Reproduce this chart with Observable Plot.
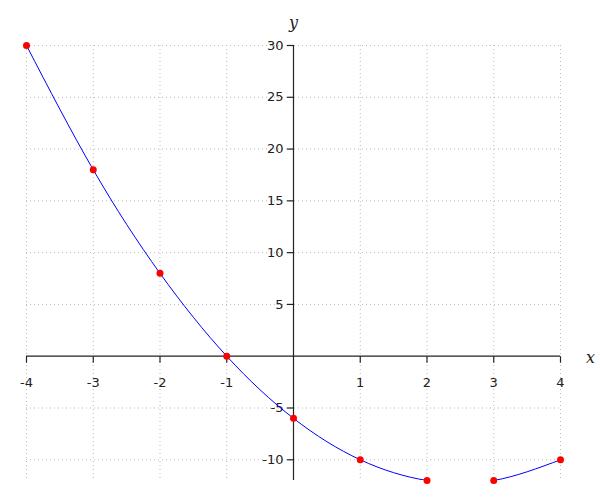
<!DOCTYPE html>
<html>
<head>
<meta charset="utf-8">
<script src="https://cdn.jsdelivr.net/npm/d3@7"></script>
<script src="https://cdn.jsdelivr.net/npm/@observablehq/plot@0.6"></script>
<style>
body { margin: 0; background: #fff; }
</style>
</head>
<body>
<div id="chart"></div>
<script>
const xs = [-4, -3, -2, -1, 0, 1, 2, 3, 4];
const ys = [30, 18, 8, 0, -6, -10, -12, -12, -10];
const xTicks = [-4, -3, -2, -1, 1, 2, 3, 4];
const xGrid = [-4, -3, -2, -1, 0, 1, 2, 3, 4];
const yTicks = [30, 25, 20, 15, 10, 5, -5, -10];
const yGrid = [30, 25, 20, 15, 10, 5, -5, -10];

const points = xs.map((x, i) => ({x, y: ys[i]}));

const tickDown = {draw(ctx) { ctx.moveTo(0, 0); ctx.lineTo(0, 6.5); }};
const tickLeft = {draw(ctx) { ctx.moveTo(0, 0); ctx.lineTo(-6.5, 0); }};

const chart = Plot.plot({
  width: 600,
  height: 500,
  marginLeft: 26,
  marginRight: 40,
  marginTop: 45,
  marginBottom: 20,
  style: {fontFamily: "DejaVu Sans", fontSize: "13px", background: "#fff"},
  x: {domain: [-4, 4], axis: null},
  y: {domain: [-12, 30], axis: null},
  marks: [
    Plot.ruleX(xGrid, {x: d => d, stroke: "#bbb", strokeDasharray: "1,3", strokeOpacity: 1}),
    Plot.ruleY(yGrid, {y: d => d, stroke: "#bbb", strokeDasharray: "1,3", strokeOpacity: 1}),
    Plot.ruleY([0], {stroke: "#222", strokeWidth: 1.2}),
    Plot.ruleX([0], {stroke: "#222", strokeWidth: 1.2}),
    Plot.dot(xTicks, {x: d => d, y: 0, symbol: tickDown, stroke: "#222", fill: "none", strokeWidth: 1.2}),
    Plot.dot(yTicks, {x: 0, y: d => d, symbol: tickLeft, stroke: "#222", fill: "none", strokeWidth: 1.2}),
    Plot.text(xTicks, {x: d => d, y: 0, text: d => String(d), dy: 27, fill: "#222"}),
    Plot.text(yTicks, {x: 0, y: d => d, text: d => String(d), dx: -10, textAnchor: "end", fill: "#222"}),
    Plot.text(["y"], {x: 0, y: 30, text: d => d, dy: -23, fontFamily: "DejaVu Serif", fontStyle: "italic", fontSize: 16, fill: "#222"}),
    Plot.text(["x"], {x: 4, y: 0, text: d => d, dx: 30, dy: 2, fontFamily: "DejaVu Serif", fontStyle: "italic", fontSize: 16, fill: "#222"}),
    Plot.line(points, {x: "x", y: "y", curve: "natural", stroke: "blue", strokeWidth: 1, clip: true}),
    Plot.dot(points, {x: "x", y: "y", r: 3.5, fill: "red", stroke: "none"})
  ]
});
document.getElementById("chart").appendChild(chart);
</script>
</body>
</html>
